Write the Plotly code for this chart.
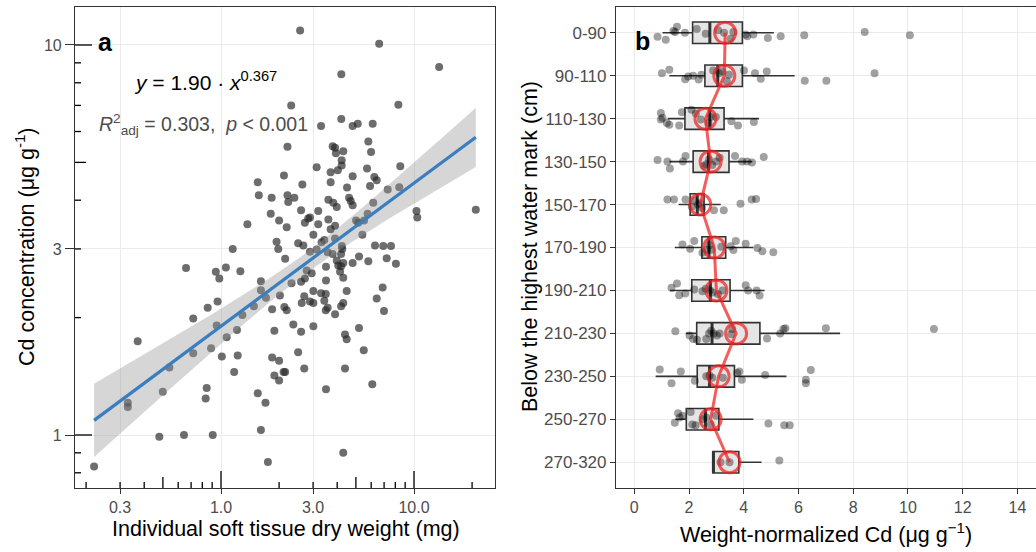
import numpy as np
import plotly.graph_objects as go

# ---------------- Panel a data ----------------
dry_weight_mg = [
    2.57, 6.6, 13.5, 4.2, 2.31, 8.3, 3.30, 4.2, 4.81, 5.11, 6.11, 2.21, 3.79, 3.90, 3.94, 4.30,
    5.80, 5.99, 4.22, 4.22, 3.13, 3.70, 4.03, 4.81, 5.71, 8.49, 2.12, 6.23, 6.41, 1.55, 2.64, 3.70,
    4.50, 5.92, 7.31, 8.39, 1.57, 1.83, 2.21, 2.23, 2.40, 3.60, 3.82, 3.98, 4.61, 4.70, 4.81, 2.60,
    3.19, 6.15, 10.3, 10.4, 20.9, 1.81, 2.0, 2.19, 2.83, 2.89, 2.72, 3.19, 3.60, 3.70, 3.90, 5.01,
    5.14, 5.51, 5.75, 1.37, 3.01, 3.32, 3.43, 3.90, 5.40, 2.51, 2.67, 6.28, 6.93, 7.60, 1.15, 1.98,
    1.94, 4.23,
    2.89, 3.13, 3.57, 3.79, 4.19, 4.25, 5.19, 5.80, 4.81, 7.22, 8.06, 3.98, 4.05, 4.19, 4.14, 4.30,
    4.30, 3.50, 3.50, 2.95, 2.78, 2.72, 2.60, 2.15, 2.32, 3.01, 3.30, 3.49, 3.43, 2.70, 2.62, 2.89,
    3.01, 4.48, 4.30, 4.19, 3.57, 3.49, 3.90, 6.88, 6.41, 6.99, 2.19, 2.37, 2.60, 3.01, 5.19, 4.39,
    4.48, 5.49, 2.51, 2.70, 2.15, 4.39, 3.50, 6.08, 4.30,
    0.659, 0.94, 0.98, 1.06, 1.26, 1.61, 1.61, 1.71, 1.48, 1.84, 2.02, 2.13, 0.853, 0.96, 0.718,
    0.95, 1.29, 1.21, 1.07, 1.89, 0.370, 0.718, 0.888, 1.01, 1.22, 0.54, 1.17, 1.84, 2.0, 1.89,
    2.0, 2.11, 1.55, 1.70, 0.499, 0.843, 0.833, 0.329, 0.329, 0.479, 0.643, 0.906, 1.61, 1.75, 0.22,
]
cd_ug_g = [
    10.9, 10.07, 8.78, 8.41, 7.0, 7.03, 6.2, 6.46, 6.2, 6.28, 6.28, 5.48, 5.50, 5.45, 5.28, 5.34,
    5.66, 5.32, 5.06, 4.91, 4.86, 4.72, 4.77, 4.61, 4.82, 4.89, 4.63, 4.59, 4.50, 4.45, 4.39, 4.45,
    4.31, 4.35, 4.26, 4.32, 4.12, 4.06, 4.12, 3.96, 4.06, 4.01, 3.94, 3.84, 4.06, 3.98, 3.88, 3.77,
    3.75, 3.94, 3.75, 3.61, 3.78, 3.69, 3.55, 3.41, 3.59, 3.61, 3.50, 3.47, 3.57, 3.37, 3.44, 3.55,
    3.50, 3.55, 3.69, 3.47, 3.26, 3.12, 3.16, 3.19, 3.26, 3.10, 3.06, 3.06, 3.05, 3.05, 3.0, 3.0,
    3.13, 3.05,
    2.95, 2.99, 2.94, 2.91, 2.91, 3.0, 2.87, 2.79, 2.76, 2.84, 2.75, 2.80, 2.72, 2.71, 2.62, 2.53,
    2.76, 2.70, 2.49, 2.60, 2.64, 2.52, 2.47, 2.83, 2.45, 2.34, 2.31, 2.30, 2.21, 2.27, 2.18, 2.20,
    2.18, 2.34, 2.18, 2.14, 2.12, 2.09, 2.04, 2.39, 2.24, 2.08, 2.09, 1.92, 1.84, 1.90, 1.88, 1.81,
    1.76, 1.65, 1.63, 1.48, 1.45, 1.48, 1.31, 1.35, 0.90,
    2.68, 2.62, 2.52, 2.69, 2.63, 2.48, 2.35, 2.25, 2.14, 2.10, 2.28, 2.13, 2.12, 2.20, 1.99,
    1.91, 2.03, 1.86, 1.78, 1.85, 1.74, 1.62, 1.67, 1.59, 1.60, 1.49, 1.45, 1.58, 1.55, 1.42,
    1.38, 1.45, 1.28, 1.21, 1.29, 1.32, 1.24, 1.21, 1.18, 0.99, 1.0, 1.0, 1.03, 0.853, 0.83,
]
fit_coef = 1.90
fit_exp = 0.367
x_ticks_a = [0.3, 1, 3, 10]
x_ticktext_a = ["0.3", "1.0", "3.0", "10.0"]
y_ticks_a = [1, 3, 10]
y_ticktext_a = ["1", "3", "10"]
x_logticks = [0.2, 0.3, 0.4, 0.5, 0.6, 0.7, 0.8, 0.9, 1, 2, 3, 4, 5, 6, 7, 8, 9, 10, 20]
y_logticks = [0.8, 0.9, 1, 2, 3, 4, 5, 6, 7, 8, 9, 10]

# ---------------- Panel b data ----------------
depth_groups = ["0-90", "90-110", "110-130", "130-150", "150-170", "170-190",
                "190-210", "210-230", "230-250", "250-270", "270-320"]
box_q1 = [2.13, 2.58, 1.85, 2.15, 2.04, 2.47, 2.10, 2.28, 2.30, 1.90, 2.87]
box_median = [2.76, 3.05, 2.76, 2.71, 2.30, 2.73, 2.78, 2.84, 2.75, 2.60, 2.89]
box_q3 = [3.95, 3.95, 3.28, 3.46, 2.55, 3.34, 3.50, 4.59, 3.66, 3.09, 3.82]
whisker_low = [1.03, 1.28, 1.22, 1.28, 1.62, 1.48, 1.31, 1.88, 0.78, 1.50, 2.87]
whisker_high = [5.10, 5.86, 4.56, 4.31, 3.16, 4.35, 4.76, 7.52, 5.56, 4.35, 4.65]
group_means = [3.32, 3.29, 2.60, 2.79, 2.41, 2.92, 3.00, 3.72, 3.08, 2.79, 3.48]

point_values = [
    [0.85, 1.15, 1.43, 1.49, 1.56, 1.85, 2.28, 2.61, 3.06, 3.28, 3.52, 3.62, 4.07, 4.13, 4.35, 4.88, 5.35, 6.21, 8.42, 10.07],
    [1.01, 1.28, 1.86, 1.97, 2.15, 2.35, 2.45, 2.88, 3.10, 3.22, 3.38, 3.46, 4.01, 4.41, 4.62, 4.84, 6.23, 7.02, 8.78],
    [0.97, 0.97, 1.03, 1.19, 1.28, 1.64, 1.74, 2.09, 2.25, 2.43, 2.71, 2.79, 2.98, 3.55, 3.79, 4.37],
    [0.85, 1.21, 1.30, 1.78, 1.87, 2.55, 2.63, 2.73, 2.85, 2.99, 3.12, 3.68, 3.94, 4.12, 4.30, 4.73],
    [1.21, 1.45, 1.87, 2.10, 2.21, 2.33, 2.40, 2.48, 2.91, 3.27, 3.88, 4.29, 4.45],
    [1.76, 2.04, 2.19, 2.49, 2.65, 2.75, 2.82, 3.18, 3.52, 3.62, 3.71, 4.07, 4.50, 4.68, 5.08],
    [1.36, 1.56, 1.64, 1.86, 2.19, 2.49, 2.61, 2.77, 2.86, 3.06, 3.22, 4.07, 4.16, 4.47, 4.58],
    [1.50, 2.02, 2.15, 2.29, 2.63, 2.73, 2.81, 2.90, 3.02, 3.12, 3.54, 3.58, 4.85, 5.33, 5.45, 5.52, 7.00, 10.95],
    [0.93, 1.36, 1.70, 2.21, 2.63, 2.75, 2.85, 3.24, 3.76, 3.84, 3.93, 4.78, 6.27, 6.27, 6.45],
    [1.48, 1.60, 1.66, 1.76, 2.06, 2.12, 2.24, 2.51, 2.63, 2.79, 2.99, 4.90, 5.48, 5.68],
    [3.15, 3.48, 5.30],
]
point_jitter = [
    [0.09, 0.16, -0.04, -0.02, -0.14, 0.0, -0.09, 0.02, -0.06, 0.0, 0.14, -0.02, 0.04, 0.08, 0.04, 0.12, 0.08, 0.06, -0.02, 0.06],
    [-0.06, -0.14, 0.08, 0.02, 0.0, 0.09, -0.02, -0.12, -0.06, -0.10, 0.13, -0.02, -0.12, -0.06, 0.07, -0.10, 0.12, 0.12, -0.06],
    [-0.13, 0.02, -0.02, 0.10, 0.14, 0.16, -0.15, -0.21, -0.12, 0.02, 0.10, -0.04, -0.04, 0.06, 0.16, 0.08],
    [-0.04, 0.0, 0.16, 0.0, -0.13, 0.10, 0.06, -0.05, 0.08, 0.0, -0.09, -0.13, 0.0, 0.0, 0.02, -0.11],
    [-0.12, -0.12, -0.12, 0.05, -0.08, 0.0, -0.03, 0.08, 0.13, 0.13, -0.02, -0.12, -0.13],
    [-0.07, 0.03, -0.15, 0.12, 0.05, -0.05, 0.05, -0.02, -0.03, 0.06, -0.15, -0.09, 0.01, 0.09, 0.11],
    [-0.06, -0.16, 0.11, 0.07, -0.02, 0.02, -0.04, 0.0, 0.05, 0.09, 0.0, -0.12, 0.0, 0.0, 0.12],
    [-0.05, 0.05, 0.13, 0.15, 0.13, 0.0, -0.06, 0.0, 0.05, 0.0, 0.02, -0.10, 0.12, 0.0, -0.10, -0.12, -0.12, -0.10],
    [-0.16, 0.16, -0.11, 0.10, 0.0, -0.02, 0.03, 0.03, -0.08, -0.11, 0.08, -0.03, 0.08, 0.16, -0.15],
    [0.08, -0.14, -0.04, -0.08, -0.17, 0.12, 0.14, 0.0, -0.04, 0.12, -0.08, 0.10, 0.14, 0.14],
    [0.0, 0.0, -0.04],
]
x_ticks_b = [0, 2, 4, 6, 8, 10, 12, 14]

# ---------------- layout geometry ----------------
W, H = 1036, 552
FONT = "Liberation Sans, Arial, sans-serif"
TICKCOL = "#4D4D4D"
GRID = "#EBEBEB"
dom_a = [75 / W, 495 / W]
dom_b = [616 / W, 1.0]
dom_y = [(H - 488) / H, (H - 7) / H]
PANEL_H = 481.0
PANEL_W = 420.0

fig = go.Figure()

# ---------------- panel a ----------------
lx = np.log10(np.array(dry_weight_mg))
ly = np.log10(np.array(cd_ug_g))
a0 = np.log10(fit_coef)
n = len(lx)
res = ly - (a0 + fit_exp * lx)
s = np.sqrt(np.sum(res ** 2) / (n - 2))
xbar = lx.mean()
sxx = np.sum((lx - xbar) ** 2)
t975 = 1.973
grid = np.linspace(lx.min(), lx.max(), 100)
fit = a0 + fit_exp * grid
half = t975 * s * np.sqrt(1 / n + (grid - xbar) ** 2 / sxx)

fig.add_trace(go.Scatter(
    x=dry_weight_mg, y=cd_ug_g, mode="markers",
    marker=dict(size=8, color="rgba(40,40,40,0.68)", line=dict(width=0)),
    xaxis="x", yaxis="y", showlegend=False, hoverinfo="skip"))
fig.add_trace(go.Scatter(
    x=np.concatenate([10 ** grid, 10 ** grid[::-1]]),
    y=np.concatenate([10 ** (fit + half), 10 ** (fit - half)[::-1]]),
    fill="toself", fillcolor="rgba(153,153,153,0.4)", line=dict(width=0),
    mode="lines", xaxis="x", yaxis="y", showlegend=False, hoverinfo="skip"))
fig.add_trace(go.Scatter(
    x=10 ** grid, y=10 ** fit, mode="lines",
    line=dict(color="#3A7EC0", width=3.2),
    xaxis="x", yaxis="y", showlegend=False, hoverinfo="skip"))

# ---------------- panel b ----------------
pos = list(range(len(depth_groups)))
fig.add_trace(go.Box(
    y=pos, q1=box_q1, median=box_median, q3=box_q3,
    lowerfence=whisker_low, upperfence=whisker_high,
    orientation="h", width=0.5, whiskerwidth=0, boxpoints=False,
    fillcolor="#E5E5E5", line=dict(color="#333333", width=1.6),
    xaxis="x2", yaxis="y2", showlegend=False, hoverinfo="skip"))
mx, my = [], []
for i, m in enumerate(box_median):
    mx += [m, m, None]
    my += [i - 0.25, i + 0.25, None]
fig.add_trace(go.Scatter(x=mx, y=my, mode="lines", line=dict(color="#333333", width=3),
                         xaxis="x2", yaxis="y2", showlegend=False, hoverinfo="skip"))
px, py = [], []
for i, (vals, offs) in enumerate(zip(point_values, point_jitter)):
    px += vals
    py += [i + o for o in offs]
fig.add_trace(go.Scatter(
    x=px, y=py, mode="markers",
    marker=dict(size=8, color="rgba(0,0,0,0.37)", line=dict(width=0)),
    xaxis="x2", yaxis="y2", showlegend=False, hoverinfo="skip"))
fig.add_trace(go.Scatter(
    x=group_means, y=pos, mode="lines+markers",
    line=dict(color="rgba(238,30,30,0.72)", width=3),
    marker=dict(symbol="circle-open", size=21, color="rgba(238,30,30,0.72)",
                line=dict(width=3, color="rgba(238,30,30,0.72)")),
    xaxis="x2", yaxis="y2", showlegend=False, hoverinfo="skip"))

# ---------------- log ticks (annotation_logticks style) ----------------
shapes = []
def tick_len(v):
    m = round(v / 10 ** np.floor(np.log10(v) + 1e-9), 6)
    if abs(m - 1) < 1e-6:
        return 17
    if abs(m - 5) < 1e-6:
        return 11
    return 6
for v in x_logticks:
    L = tick_len(v)
    shapes.append(dict(type="line", xref="x", yref="y domain", x0=v, x1=v,
                       y0=0, y1=L / PANEL_H, line=dict(color="black", width=1.3)))
for v in y_logticks:
    L = tick_len(v)
    shapes.append(dict(type="line", xref="x domain", yref="y", y0=v, y1=v,
                       x0=0, x1=L / PANEL_W, line=dict(color="black", width=1.3)))

# ---------------- annotations ----------------
def ann(text, x, y, size, color="black", angle=0, xanchor="center", yanchor="middle"):
    return dict(text=text, x=x / W, y=1 - y / H, xref="paper", yref="paper", showarrow=False,
                textangle=angle, xanchor=xanchor, yanchor=yanchor,
                font=dict(family=FONT, size=size, color=color))

annotations = [
    ann("<b>a</b>", 96, 42, 25, xanchor="left"),
    ann("<b>b</b>", 633, 41, 25, xanchor="left"),
    ann("<i>y</i> = 1.90 · <i>x</i><sup>0.367</sup>", 132, 81, 21, xanchor="left"),
    ann("<i>R</i><sup>2</sup><sub>adj</sub> = 0.303,  <i>p</i> < 0.001", 97, 124, 19.5,
        color="#4D4D4D", xanchor="left"),
    ann("Individual soft tissue dry weight (mg)", 286, 529, 21.5),
    ann("Weight-normalized Cd (μg g<sup>−1</sup>)", 826, 533, 21.5),
    ann("Cd concentration (μg g<sup>-1</sup>)", 25, 247, 21.5, angle=-90),
    ann("Below the highest water mark (cm)", 530, 247, 21.5, angle=-90),
]

axis_common = dict(showgrid=True, gridcolor=GRID, gridwidth=1, zeroline=False,
                   showline=True, mirror=True, linecolor="#333333", linewidth=1.2,
                   tickfont=dict(family=FONT, size=16, color=TICKCOL),
                   ticks="outside", tickcolor="#333333", automargin=False)

fig.update_layout(
    width=W, height=H, margin=dict(l=0, r=0, t=0, b=0),
    paper_bgcolor="white", plot_bgcolor="white",
    font=dict(family=FONT),
    xaxis=dict(domain=dom_a, anchor="y", type="log", range=[-0.7565, 1.4197],
               tickvals=x_ticks_a, ticktext=x_ticktext_a, ticklen=5, **axis_common),
    yaxis=dict(domain=dom_y, anchor="x", type="log", range=[-0.1359, 1.0974],
               tickvals=y_ticks_a, ticktext=y_ticktext_a, ticklen=9, **axis_common),
    xaxis2=dict(domain=dom_b, anchor="y2", range=[-0.669, 14.68], tickvals=x_ticks_b,
                ticklen=5, **axis_common),
    yaxis2=dict(domain=dom_y, anchor="x2", range=[10.6, -0.6], tickvals=pos,
                ticktext=depth_groups, ticklen=5,
                **{**axis_common, "tickfont": dict(family=FONT, size=17, color=TICKCOL)}),
    shapes=shapes, annotations=annotations,
)

fig.write_html("out.html")
